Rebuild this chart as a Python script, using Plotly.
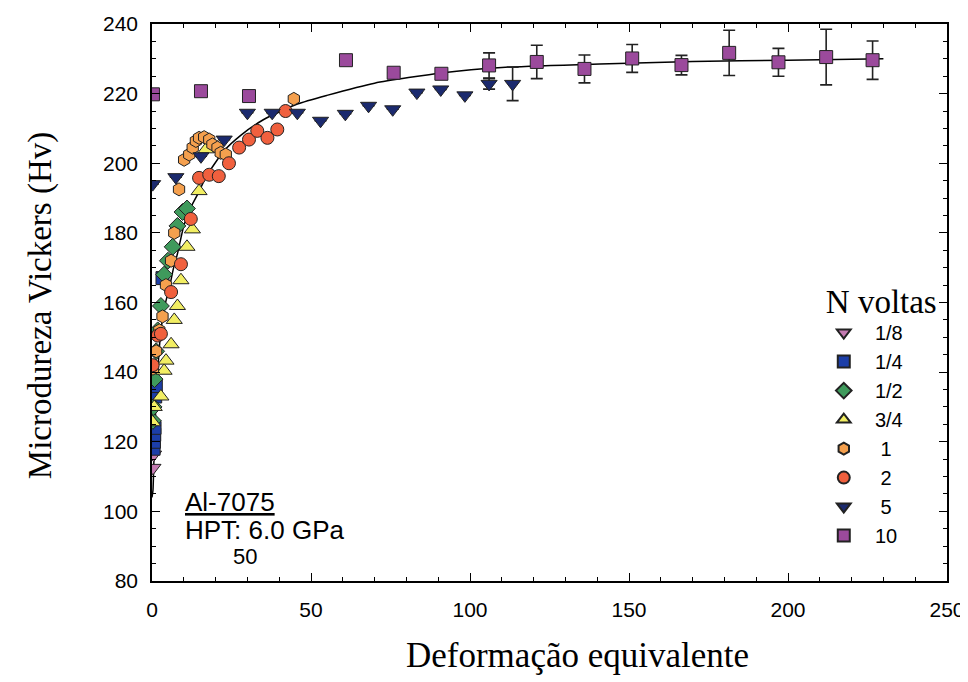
import plotly.graph_objects as go

# ---- data ----
names = ["1/8", "1/4", "1/2", "3/4", "1", "2", "5", "10"]

x_18 = [0.3, 0.5]
y_18 = [112.5, 116.3]

x_14 = [0.5, 0.6, 0.7, 0.8, 1.0, 1.2, 3.3]
y_14 = [118, 120, 122, 124, 133, 136, 167]

x_12 = [0.3, 0.5, 0.8, 1.3, 1.8, 2.8, 3.8, 5.0, 6.5, 8.0, 9.6, 11.0]
y_12 = [126, 130, 138, 146, 152, 159, 168, 172, 176, 182, 186, 187]

x_34 = [0.2, 0.7, 2.8, 3.8, 4.4, 6.0, 7.0, 8.0, 9.1, 11.0, 12.7, 14.8, 17.0]
y_34 = [125.6, 130, 133, 140.4, 143.3, 148, 155, 159, 166.4, 176, 181, 192, 204]

x_1 = [0.3, 1.3, 2.3, 3.3, 4.4, 6.0, 7.0, 8.5, 10.1, 11.7, 12.8, 13.8, 14.8, 16.4, 18.0, 19.0, 20.6, 21.6, 23.2, 44.6]
y_1 = [141, 146, 152, 156, 165, 172, 180, 192.5, 201, 202.5, 204.5, 206.4, 207.3, 207.5, 206.8, 205.4, 204.5, 203, 202.5, 218.5]

x_2 = [0.2, 1.8, 2.8, 6.0, 9.1, 12.2, 14.8, 18.0, 21.0, 24.2, 27.4, 30.5, 33.1, 36.3, 39.4, 42.0]
y_2 = [142, 150.5, 151, 163, 171, 184, 195.8, 196.7, 196.3, 200, 204.5, 206.8, 209.3, 207.3, 209.7, 215]

x_5 = [0.2, 7.5, 15.4, 22.7, 30.0, 37.8, 45.7, 53.0, 60.8, 68.1, 75.7, 83.3, 90.8, 98.4, 106.0, 113.4]
y_5 = [194, 196, 202, 206.8, 214.5, 214.5, 214.5, 212.2, 214.2, 216.5, 215.5, 220.3, 221.2, 219.5, 222.8, 222.8]
e_5 = [0, 0, 0, 0, 0, 0, 0, 0, 0, 0, 0, 0, 0, 0, 1.5, 4.8]

x_10 = [0.3, 15.4, 30.5, 61.0, 76.0, 91.0, 106.0, 121.0, 136.0, 151.0, 166.5, 181.5, 197.0, 212.0, 226.6]
y_10 = [219.8, 220.7, 219.3, 229.6, 226.0, 225.7, 228.1, 229.1, 227.1, 230.1, 228.2, 231.7, 229.0, 230.5, 229.6]
e_10 = [0, 0, 0, 0, 0, 0, 3.6, 4.8, 4.0, 4.0, 2.8, 6.5, 4.0, 8.0, 5.5]

# fitted curve
fit_x = [0, 0.3, 0.7, 1.2, 2.0, 2.8, 4.0, 5.4, 6.8, 8.0, 10.0, 12.0, 14.3, 17.4, 22.6, 27.9, 35.0, 45.7, 55.0, 70.0, 91.5, 110.0, 140.8, 170.0, 200.0, 230.0]
fit_y = [104, 106, 118, 130, 143, 152, 159, 164, 170, 174, 182, 187, 191, 196.7, 203.5, 208, 212.5, 217, 219.5, 223, 226, 227.5, 228.5, 229.2, 229.6, 230]

x_ticks = [0, 50, 100, 150, 200, 250]
y_ticks = [80, 100, 120, 140, 160, 180, 200, 220, 240]

series = [
    (x_18, y_18, None, "triangle-down", "#c47bb2"),
    (x_14, y_14, None, "square", "#1c3ea8"),
    (x_12, y_12, None, "diamond", "#3f9a5c"),
    (x_34, y_34, None, "triangle-up", "#f2ee63"),
    (x_1, y_1, None, "hexagon", "#f5a04e"),
    (x_2, y_2, None, "circle", "#f0603e"),
    (x_5, y_5, e_5, "triangle-down", "#1b2a6e"),
    (x_10, y_10, e_10, "square", "#9b4a9c"),
]

FS = "\u2007"   # figure space
PS = "\u2008"   # punctuation space
legend_labels = [FS + n if len(n) > 1 else FS + PS + n for n in names]

fig = go.Figure()

fig.add_trace(go.Scatter(x=fit_x, y=fit_y, mode="lines",
                         line=dict(color="black", width=1.5, shape="spline", smoothing=0.6),
                         showlegend=False, hoverinfo="skip"))

for label, (xs, ys, es, sym, col) in zip(legend_labels, series):
    kw = {}
    if es is not None:
        kw["error_y"] = dict(type="data", array=es, visible=True, color="#222", thickness=1.6, width=6)
    fig.add_trace(go.Scatter(
        x=xs, y=ys, mode="markers", name=label,
        marker=dict(symbol=sym, size=14 if sym.startswith("triangle") else 13,
                    color=col, line=dict(color="#222", width=1)),
        **kw))

sans = "Liberation Sans, Arial, sans-serif"
serif = "Liberation Serif, Times New Roman, serif"

axis_common = dict(
    showline=True, linecolor="black", linewidth=1.5, mirror="ticks",
    ticks="inside", ticklen=8, tickwidth=1.3, tickcolor="black",
    showgrid=False, zeroline=False, automargin=False,
    tickfont=dict(family=sans, size=21, color="black"),
)

fig.update_xaxes(range=[0, 250], tickvals=x_ticks, ticklabelstandoff=9,
                 minor=dict(dtick=10, ticks="inside", ticklen=4, tickcolor="black", tickwidth=1),
                 **axis_common)
fig.update_yaxes(range=[80, 240], tickvals=y_ticks, ticklabelstandoff=8,
                 minor=dict(dtick=5, ticks="inside", ticklen=4, tickcolor="black", tickwidth=1),
                 **axis_common)

# axis titles
fig.add_annotation(x=-0.141, y=0.495, xref="paper", yref="paper", text="Microdureza Vickers (Hv)",
                   textangle=-90, showarrow=False, xanchor="center", yanchor="middle",
                   font=dict(family=serif, size=33, color="black"))
fig.add_annotation(x=0.535, y=-0.133, xref="paper", yref="paper", text="Deformação equivalente",
                   showarrow=False, xanchor="center", yanchor="middle",
                   font=dict(family=serif, size=35, color="black"))

fig.add_annotation(x=9.75, y=102.8, xref="x", yref="y", text="<u>Al-7075</u>", showarrow=False,
                   xanchor="left", yanchor="middle", font=dict(family=sans, size=26, color="black"))
fig.add_annotation(x=9.75, y=94.7, xref="x", yref="y", text="HPT: 6.0 GPa", showarrow=False,
                   xanchor="left", yanchor="middle", font=dict(family=sans, size=26, color="black"))
fig.add_annotation(x=29.2, y=86.9, xref="x", yref="y", text="50", showarrow=False,
                   xanchor="center", yanchor="middle", font=dict(family=sans, size=22, color="black"))

# page body adds an 8px offset, so the figure is sized to fit the window
fig.update_layout(
    width=960, height=674,
    margin=dict(l=144, r=21, t=16, b=101),
    paper_bgcolor="white", plot_bgcolor="white",
    legend=dict(
        x=0.845, y=0.558, xanchor="left", yanchor="top",
        title=dict(text="N voltas", side="top center", font=dict(family=serif, size=33, color="black")),
        font=dict(family=sans, size=20, color="black"),
        itemsizing="constant", bgcolor="rgba(0,0,0,0)", tracegroupgap=0,
    ),
)

fig.write_html("out.html")
